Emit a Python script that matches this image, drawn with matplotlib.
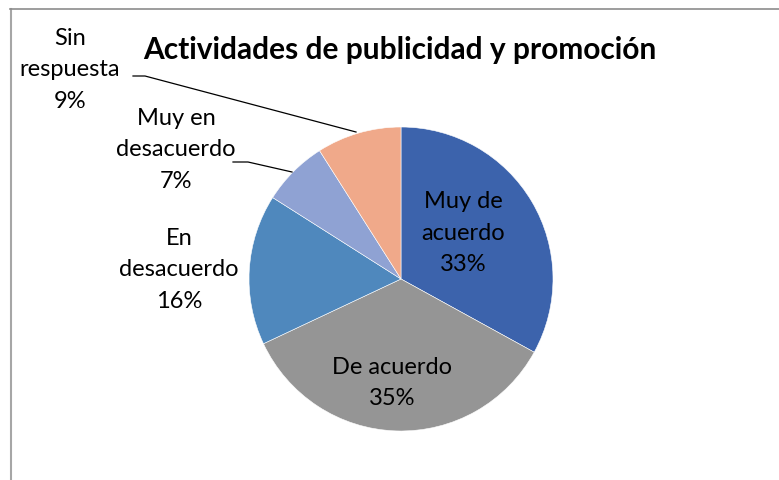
import matplotlib.pyplot as plt
from matplotlib.lines import Line2D

# answers to "Actividades de publicidad y promoción"
labels = ["Muy de\nacuerdo", "De acuerdo", "En\ndesacuerdo", "Muy en\ndesacuerdo", "Sin\nrespuesta"]
values = [33, 35, 16, 7, 9]
colors = ["#3C63AC", "#959595", "#4F88BD", "#8FA2D3", "#F0A98A"]

plt.rcParams["font.family"] = ["Lato", "DejaVu Sans"]

fig = plt.figure(figsize=(7.79, 4.80), dpi=100)
ax = fig.add_axes([0, 0, 1, 1])

# pie in pixel coords (y up)
wedges, _ = ax.pie(values, colors=colors, startangle=90, counterclock=False,
                   center=(401, 201), radius=152, frame=True,
                   wedgeprops=dict(linewidth=0.4, edgecolor="white"))
ax.set_xlim(0, 779)
ax.set_ylim(0, 480)
ax.set_aspect("equal")
ax.axis("off")

# data labels
pos = [(463, 247), (392, 97), (179, 210), (176, 330), (70, 410)]
for lab, v, (x, y) in zip(labels, values, pos):
    ax.text(x, y, "%s\n%d%%" % (lab, v), ha="center", va="center",
            fontsize=17, linespacing=1.6, color="black")

# leader lines
ax.plot([133, 145, 356], [404, 404, 348], color="black", lw=0.9)
ax.plot([233, 248, 292], [318, 318, 308], color="black", lw=0.9)

ax.text(400, 430, "Actividades de publicidad y promoción", ha="center", va="center",
        fontsize=21.5, fontweight="bold")

# chart frame
fig.add_artist(Line2D([10.5/779, 10.5/779], [0, 471/480], color="#A6A6A6", lw=1.5))
fig.add_artist(Line2D([10/779, 1], [471.5/480, 471.5/480], color="#8C8C8C", lw=1.2))

fig.savefig("out.png", dpi=100)
